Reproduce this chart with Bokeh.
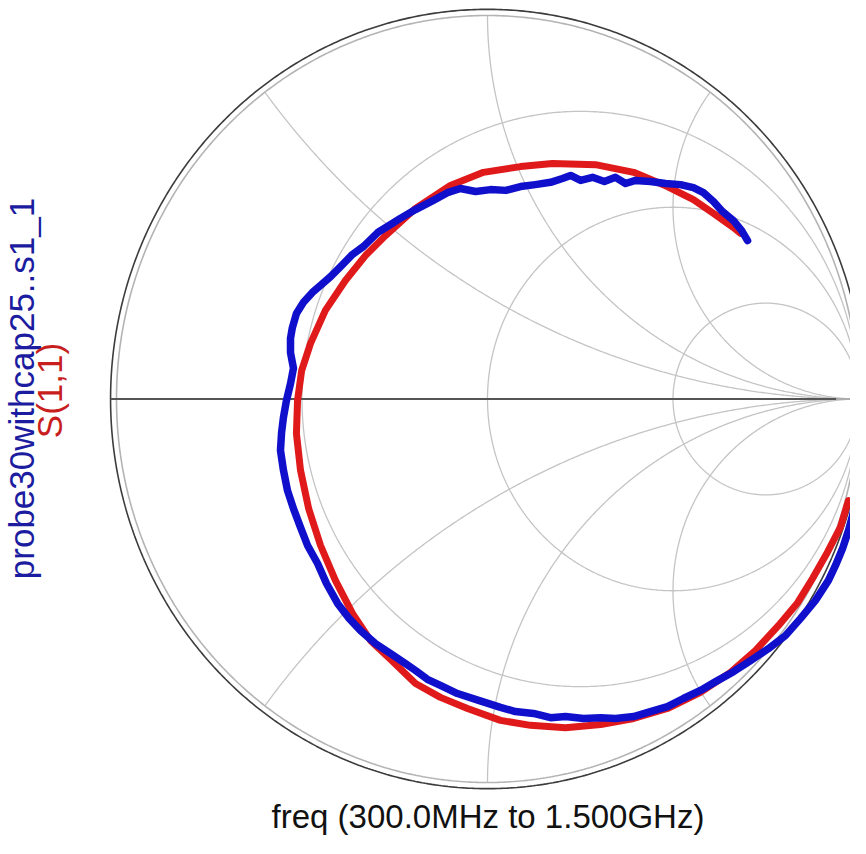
import numpy as np
from bokeh.plotting import figure
from bokeh.models import Range1d, Label
from bokeh.embed import file_html
from bokeh.resources import INLINE

red_re = [0.973, 0.951, 0.916, 0.876, 0.836, 0.784, 0.722, 0.655, 0.574, 0.485,
          0.394, 0.305, 0.210, 0.116, 0.035, -0.054, -0.127, -0.194, -0.261, -0.315,
          -0.364, -0.410, -0.450, -0.482, -0.504, -0.515, -0.512, -0.501, -0.477, -0.437,
          -0.383, -0.329, -0.275, -0.194, -0.100, -0.011, 0.089, 0.175, 0.291, 0.394,
          0.485, 0.555, 0.609, 0.663, 0.682]
red_im = [-0.265, -0.335, -0.400, -0.468, -0.531, -0.591, -0.656, -0.713, -0.765, -0.807,
          -0.833, -0.849, -0.857, -0.851, -0.838, -0.807, -0.778, -0.742, -0.679, -0.630,
          -0.559, -0.473, -0.382, -0.286, -0.186, -0.090, -0.004, 0.074, 0.145, 0.231,
          0.309, 0.374, 0.426, 0.497, 0.557, 0.591, 0.606, 0.614, 0.611, 0.591,
          0.554, 0.520, 0.484, 0.447, 0.432]

blue_re = [0.992, 0.984, 0.973, 0.957, 0.938, 0.919, 0.884, 0.844, 0.803, 0.757,
           0.709, 0.663, 0.615, 0.574, 0.528, 0.485, 0.439, 0.394, 0.345, 0.305,
           0.259, 0.210, 0.170, 0.124, 0.075, 0.035, -0.024, -0.081, -0.127, -0.162,
           -0.194, -0.221, -0.261, -0.302, -0.342, -0.375, -0.404, -0.434, -0.458, -0.485,
           -0.504, -0.523, -0.539, -0.550, -0.558, -0.555, -0.550, -0.542, -0.531, -0.523,
           -0.531, -0.531, -0.526, -0.515, -0.496, -0.472, -0.450, -0.423, -0.396, -0.364,
           -0.334, -0.296, -0.261, -0.235, -0.194, -0.146, -0.108, -0.073, -0.032, 0.008,
           0.049, 0.089, 0.129, 0.170, 0.202, 0.224, 0.251, 0.283, 0.315, 0.345,
           0.372, 0.399, 0.439, 0.480, 0.520, 0.555, 0.582, 0.609, 0.633, 0.663,
           0.685, 0.701]
blue_im = [-0.265, -0.304, -0.343, -0.390, -0.434, -0.473, -0.525, -0.572, -0.617, -0.651,
           -0.682, -0.711, -0.737, -0.760, -0.781, -0.802, -0.815, -0.828, -0.833, -0.831,
           -0.833, -0.828, -0.831, -0.820, -0.815, -0.804, -0.786, -0.768, -0.747, -0.731,
           -0.708, -0.690, -0.664, -0.638, -0.604, -0.570, -0.533, -0.481, -0.429, -0.382,
           -0.335, -0.286, -0.239, -0.186, -0.134, -0.087, -0.048, -0.004, 0.040, 0.080,
           0.121, 0.158, 0.186, 0.223, 0.252, 0.278, 0.296, 0.319, 0.345, 0.377,
           0.398, 0.434, 0.455, 0.471, 0.494, 0.518, 0.538, 0.549, 0.541, 0.546,
           0.544, 0.554, 0.559, 0.565, 0.575, 0.583, 0.570, 0.578, 0.567, 0.578,
           0.562, 0.570, 0.567, 0.562, 0.559, 0.551, 0.538, 0.515, 0.489, 0.465,
           0.439, 0.413]

# Smith chart grid values
resistance_values = [1.0 / 3.0, 1.0, 3.0]
reactance_values = [0.5, 1.0, 2.0]

label_blue = "probe30withcap25..s1_1"
label_red = "S(1,1)"
freq_text = "freq (300.0MHz to 1.500GHz)"

# ---- layout ----
W, H = 850, 838
CX, CY = 487.0, 398.5      # chart centre (px)
SX, SY = 371.0, 383.5      # px per unit of reflection coefficient
x0 = -CX / SX
x1 = x0 + W / SX
y1 = CY / SY
y0 = y1 - H / SY

def gx(px):
    return (px - CX) / SX

def gy(py):
    return (CY - py) / SY

p = figure(width=W, height=H, x_range=Range1d(x0, x1), y_range=Range1d(y0, y1),
           output_backend="svg", toolbar_location=None, min_border=0,
           x_axis_location=None, y_axis_location=None)
p.grid.visible = False
p.outline_line_color = None
p.background_fill_color = "white"
p.border_fill_color = "white"

t = np.linspace(0, 2 * np.pi, 721)

# resistance circles and reactance arcs
gxs, gys = [], []
for r in resistance_values:
    c = r / (1 + r)
    rad = 1 / (1 + r)
    gxs.append(list(c + rad * np.cos(t)))
    gys.append(list(rad * np.sin(t)))
for xv in reactance_values:
    xi = (xv ** 2 - 1) / (xv ** 2 + 1)
    yi = 2 * xv / (xv ** 2 + 1)
    th_i = np.arctan2(yi - 1 / xv, xi - 1) % (2 * np.pi)
    th = np.linspace(th_i, 1.5 * np.pi, 400)
    ax = 1 + np.cos(th) / xv
    ay = 1 / xv + np.sin(th) / xv
    for s in (1, -1):
        gxs.append(list(ax))
        gys.append(list(s * ay))
p.multi_line(gxs, gys, line_color="#c4c4c4", line_width=1.3)

# unit circle (grey) and outer border (dark)
p.line(np.cos(t), np.sin(t), line_color="#b4b4b4", line_width=1.6)
p.line(1.016 * np.cos(t), 1.016 * np.sin(t), line_color="#3c3c3c", line_width=1.6)

# real axis
p.line([-1.016, 0.94], [0, 0], line_color="#555555", line_width=2.2)
p.line([0.94, 1.0], [0, 0], line_color="#a8a8a8", line_width=1.6)

# traces
p.line(red_re, red_im, line_color="#e01a1a", line_width=7, line_join="round", line_cap="round")
p.line(blue_re, blue_im, line_color="#1010cc", line_width=7.5, line_join="round", line_cap="round")

# texts
p.add_layout(Label(x=gx(487.5), y=gy(816), text=freq_text, text_font="Liberation Sans",
                   text_font_size="33px", text_color="#111111", text_align="center",
                   text_baseline="middle"))
p.add_layout(Label(x=gx(21), y=gy(388), text=label_blue, angle=np.pi / 2, text_font="Liberation Sans",
                   text_font_size="35px", text_color="#1c1ca0", text_align="center",
                   text_baseline="middle"))
p.add_layout(Label(x=gx(49), y=gy(390), text=label_red, angle=np.pi / 2, text_font="Liberation Sans",
                   text_font_size="35px", text_color="#c81e1e", text_align="center",
                   text_baseline="middle"))

open("out.html", "w").write(file_html(p, INLINE))
